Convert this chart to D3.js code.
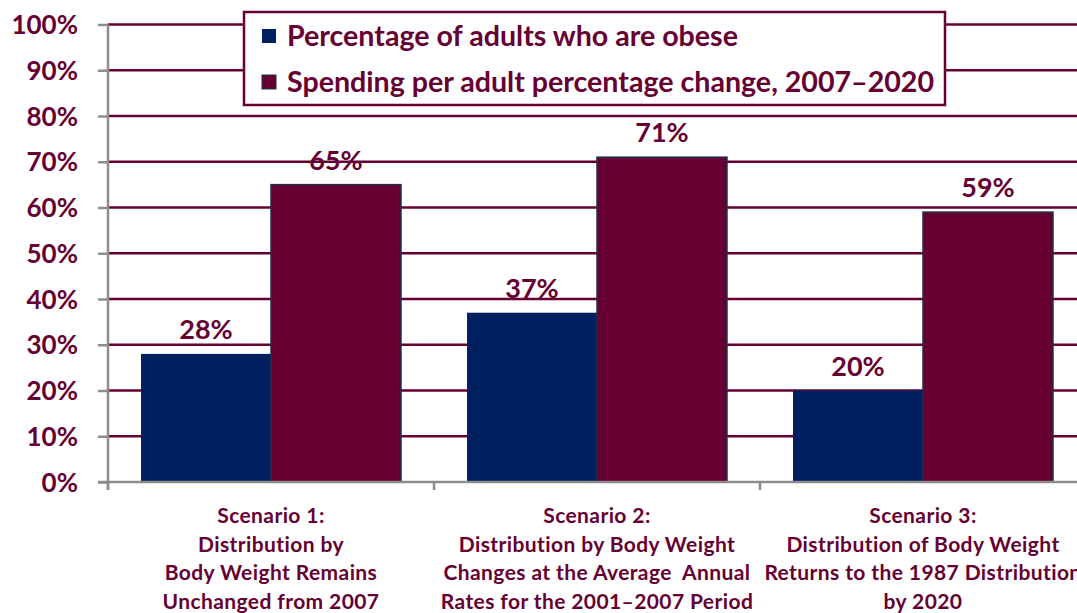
<!DOCTYPE html>
<html>
<head>
<meta charset="utf-8">
<script src="https://cdn.jsdelivr.net/npm/d3@7/dist/d3.min.js"></script>
<style>
  html, body { margin: 0; padding: 0; background: #fff; overflow: hidden; }
  svg { display: block; font-family: Lato, "Open Sans", sans-serif; font-weight: bold; }
</style>
</head>
<body>
<svg id="chart" width="1077" height="613"></svg>
<script>
const categories = [
  ["Scenario 1:", "Distribution by", "Body Weight Remains", "Unchanged from 2007"],
  ["Scenario 2:", "Distribution by Body Weight", "Changes at the Average  Annual", "Rates for the 2001\u20132007 Period"],
  ["Scenario 3:", "Distribution of Body Weight", "Returns to the 1987 Distribution", "by 2020"]
];
const seriesNames = ["Percentage of adults who are obese", "Spending per adult percentage change, 2007\u20132020"];
const obese = [28, 37, 20];
const spending = [65, 71, 59];
const yTicks = [0, 10, 20, 30, 40, 50, 60, 70, 80, 90, 100];

const MAROON = "#660033";
const NAVY = "#002060";
const svg = d3.select("#chart");

const x0 = d3.scaleBand().domain(d3.range(categories.length)).range([108, 1086]).paddingInner(0).paddingOuter(0);
const x1 = d3.scaleBand().domain([0, 1]).range([0, x0.bandwidth()]).paddingOuter(0.254).paddingInner(0);
const y = d3.scaleLinear().domain([0, 100]).range([482, 24.5]);

// gridlines
svg.append("g").selectAll("line").data(yTicks.filter(d => d > 0)).join("line")
  .attr("x1", 108).attr("x2", 1077)
  .attr("y1", d => y(d)).attr("y2", d => y(d))
  .attr("stroke", MAROON).attr("stroke-width", 2.5);

// bars
const series = [obese, spending];
const colors = [NAVY, MAROON];
const g = svg.append("g");
series.forEach((vals, si) => {
  g.selectAll(".b" + si).data(vals).join("rect")
    .attr("x", (d, i) => x0(i) + x1(si))
    .attr("width", x1.bandwidth())
    .attr("y", d => y(d))
    .attr("height", d => y(0) - y(d))
    .attr("fill", colors[si])
    .attr("stroke", si === 1 ? "#1f3049" : "none")
    .attr("stroke-width", 1.5);
});

// value labels
series.forEach((vals, si) => {
  svg.append("g").selectAll("text").data(vals).join("text")
    .attr("x", (d, i) => x0(i) + x1(si) + x1.bandwidth() / 2)
    .attr("y", d => y(d) - 15)
    .attr("text-anchor", "middle")
    .attr("fill", MAROON)
    .attr("font-size", 27)
    .text(d => d + "%");
});

// y axis
const yAxis = d3.axisLeft(y).tickValues(yTicks).tickSize(10).tickPadding(20).tickFormat(d => d + "%");
const ya = svg.append("g").attr("transform", "translate(108,0)").call(yAxis);
ya.select(".domain").attr("stroke", "#8c8c8c").attr("stroke-width", 2.5).attr("d", "M0,24.5V490");
ya.selectAll(".tick line").attr("stroke", "#8c8c8c").attr("stroke-width", 2.5);
ya.selectAll(".tick text").attr("fill", MAROON).attr("font-size", 26).attr("font-family", "Lato").attr("font-weight", "bold").attr("dy", "0.35em");

// x axis
const xa = svg.append("g").attr("transform", "translate(0,482)");
xa.append("line").attr("x1", 98).attr("x2", 1077).attr("y1", 0).attr("y2", 0).attr("stroke", "#8c8c8c").attr("stroke-width", 2.5);
xa.selectAll(".tk").data(d3.range(categories.length + 1)).join("line")
  .attr("x1", i => i < categories.length ? x0(i) : 1086)
  .attr("x2", i => i < categories.length ? x0(i) : 1086)
  .attr("y1", 0).attr("y2", 8).attr("stroke", "#8c8c8c").attr("stroke-width", 2.5);

// category labels
categories.forEach((lines, i) => {
  const cx = x0(i) + x0.bandwidth() / 2;
  const t = svg.append("text")
    .attr("x", cx)
    .attr("y", 523)
    .attr("text-anchor", "middle").attr("fill", MAROON).attr("font-size", 21)
    .attr("letter-spacing", 0.4)
    .attr("xml:space", "preserve");
  lines.forEach((ln, k) => {
    t.append("tspan").attr("x", cx).attr("y", 523 + k * 28.5).text(ln);
  });
});

// legend
const lg = svg.append("g");
lg.append("rect").attr("x", 244).attr("y", 12).attr("width", 701).attr("height", 93)
  .attr("fill", "#fff").attr("stroke", MAROON).attr("stroke-width", 2.5);
seriesNames.forEach((name, i) => {
  const cy = 36 + i * 46;
  lg.append("rect").attr("x", 262).attr("y", cy - 7).attr("width", 14).attr("height", 14)
    .attr("fill", colors[i]).attr("stroke", i === 1 ? "#1f3049" : "none").attr("stroke-width", 1);
  lg.append("text").attr("x", 287).attr("y", cy + 10).attr("fill", MAROON).attr("font-size", 28.6).text(name);
});
</script>
</body>
</html>
